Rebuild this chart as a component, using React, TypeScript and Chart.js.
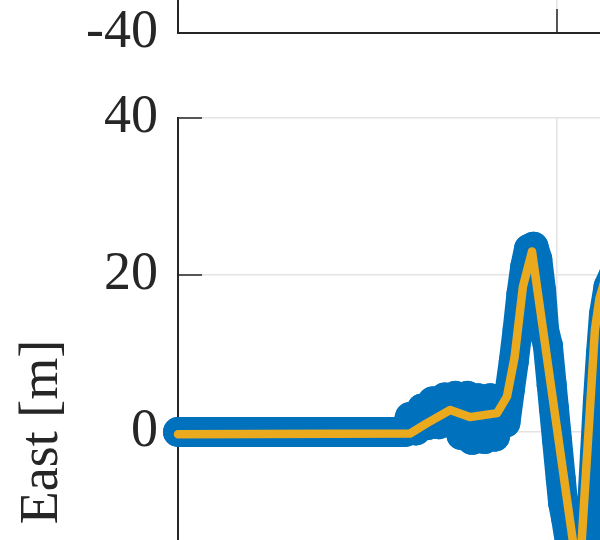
import { useEffect, useRef } from "react";
import { Chart, registerables } from "chart.js";

Chart.register(...registerables);

// ---- data (x in s, y in m) ----
const yTickValues = [-40, -20, 0, 20, 40];
const xTickValues = [0, 50, 100];

const measuredX = [0, 4, 8, 12, 16, 20, 24, 28, 30, 30.6, 31.4, 32.2, 33.0, 33.6, 34.4, 35.2, 36.0, 36.6, 37.4, 38.2, 38.8, 39.6, 40.4, 41.2, 41.8, 42.6, 43.2, 43.8, 44.3, 44.8, 45.3, 45.8, 46.3, 46.9, 47.4, 47.9, 48.3, 48.8, 49.3, 49.6, 50.0, 50.5, 50.8, 51.2, 51.7, 52.2, 52.8, 53.4, 53.9, 54.2, 54.6, 55.0, 55.4, 55.8, 56.2, 56.8, 57.5];
const measuredY = [0, 0, 0, 0, 0, 0, 0, 0, 0, 1.9, 0.2, 3.0, 0.9, 3.9, 1.0, 4.4, 1.2, 4.6, -0.4, 4.6, -1.0, 4.3, -0.9, 4.3, -0.6, 3.2, 1.2, 5.5, 9, 13, 17.5, 21, 23.3, 23.6, 22, 18, 13, 11, 6, 3, -1, -6, -9, -11, -14, -17, -20, -21, -19, -17, -10, -3, 4, 10, 15, 18.5, 20];

const estX = [0, 30.6, 32.8, 35.9, 38.5, 42.1, 43.4, 44.4, 45.5, 46.7, 48.6, 52.9, 55.0, 55.6, 56.5];
const estY = [-0.3, -0.2, 1.1, 2.8, 1.9, 2.4, 4.5, 9.5, 18.5, 23.0, 10, -19.4, 13, 17, 20];

const BLUE = "#0072BD";
const ORANGE = "#EBA91E";
const AXIS = "#262626";
const GRID = "#e3e3e3";
const FONT = "'Liberation Serif', 'DejaVu Serif', serif";

const inwardTicks = {
  id: "inwardTicks",
  beforeDatasetsDraw(chart: any) {
    const { ctx, chartArea, scales } = chart;
    ctx.save();
    ctx.strokeStyle = AXIS;
    ctx.lineWidth = 1.5;
    ctx.beginPath();
    scales.y.ticks.forEach((t: any) => {
      const p = scales.y.getPixelForValue(t.value);
      ctx.moveTo(chartArea.left, p);
      ctx.lineTo(chartArea.left + 24, p);
    });
    scales.x.ticks.forEach((t: any) => {
      const p = scales.x.getPixelForValue(t.value);
      ctx.moveTo(p, chartArea.bottom);
      ctx.lineTo(p, chartArea.bottom - 24);
    });
    ctx.stroke();
    ctx.restore();
  },
};

function makeOptions(withTitle: boolean, padTop: number, padBottom: number): any {
  return {
    responsive: false,
    animation: false,
    devicePixelRatio: 1,
    layout: { padding: { top: padTop, bottom: padBottom, left: 0, right: 24 } },
    plugins: { legend: { display: false }, tooltip: { enabled: false } },
    scales: {
      x: {
        type: "linear",
        min: 0,
        max: 100,
        afterBuildTicks: (s: any) => {
          s.ticks = xTickValues.map((v) => ({ value: v }));
        },
        afterFit: (s: any) => {
          s.height = 0;
        },
        ticks: { display: false },
        grid: { color: GRID, lineWidth: 1.5, drawTicks: false },
        border: { color: AXIS, width: 2 },
      },
      y: {
        type: "linear",
        min: -40,
        max: 40,
        afterBuildTicks: (s: any) => {
          s.ticks = yTickValues.map((v) => ({ value: v }));
        },
        afterFit: (s: any) => {
          s.width = 178;
        },
        ticks: {
          padding: 20,
          color: AXIS,
          font: { family: FONT, size: 54 },
        },
        grid: { color: GRID, lineWidth: 1.5, drawTicks: false },
        border: { color: AXIS, width: 2 },
        title: {
          display: withTitle,
          text: "East [m]",
          color: AXIS,
          font: { family: FONT, size: 54 },
          padding: { top: 10, bottom: 0 },
        },
      },
    },
  };
}

export default function App() {
  const topRef = useRef<HTMLCanvasElement>(null);
  const botRef = useRef<HTMLCanvasElement>(null);

  useEffect(() => {
    const top = new Chart(topRef.current!, {
      type: "scatter",
      data: { datasets: [] },
      options: makeOptions(false, 105, 67),
      plugins: [inwardTicks],
    } as any);

    const bot = new Chart(botRef.current!, {
      type: "scatter",
      data: {
        datasets: [
          {
            label: "estimate",
            data: estX.map((x, i) => ({ x, y: estY[i] })),
            showLine: true,
            borderColor: ORANGE,
            borderWidth: 8.5,
            pointRadius: 0,
            borderJoinStyle: "round",
            borderCapStyle: "round",
            order: 0,
            clip: false,
          },
          {
            label: "measured",
            data: measuredX.map((x, i) => ({ x, y: measuredY[i] })),
            showLine: true,
            borderColor: BLUE,
            borderWidth: 30,
            backgroundColor: BLUE,
            pointRadius: 15,
            pointBorderWidth: 0,
            pointBackgroundColor: BLUE,
            borderJoinStyle: "round",
            borderCapStyle: "round",
            order: 1,
            clip: false,
          },
        ],
      },
      options: makeOptions(true, 118, 54),
      plugins: [inwardTicks],
    } as any);

    return () => {
      top.destroy();
      bot.destroy();
    };
  }, []);

  return (
    <div
      style={{
        position: "fixed",
        left: 0,
        top: 0,
        width: 600,
        height: 540,
        overflow: "hidden",
        background: "#fff",
      }}
    >
      <canvas
        ref={topRef}
        width={960}
        height={800}
        style={{ position: "absolute", left: 0, top: -700, width: 960, height: 800 }}
      />
      <canvas
        ref={botRef}
        width={960}
        height={800}
        style={{ position: "absolute", left: 0, top: 0, width: 960, height: 800 }}
      />
    </div>
  );
}
